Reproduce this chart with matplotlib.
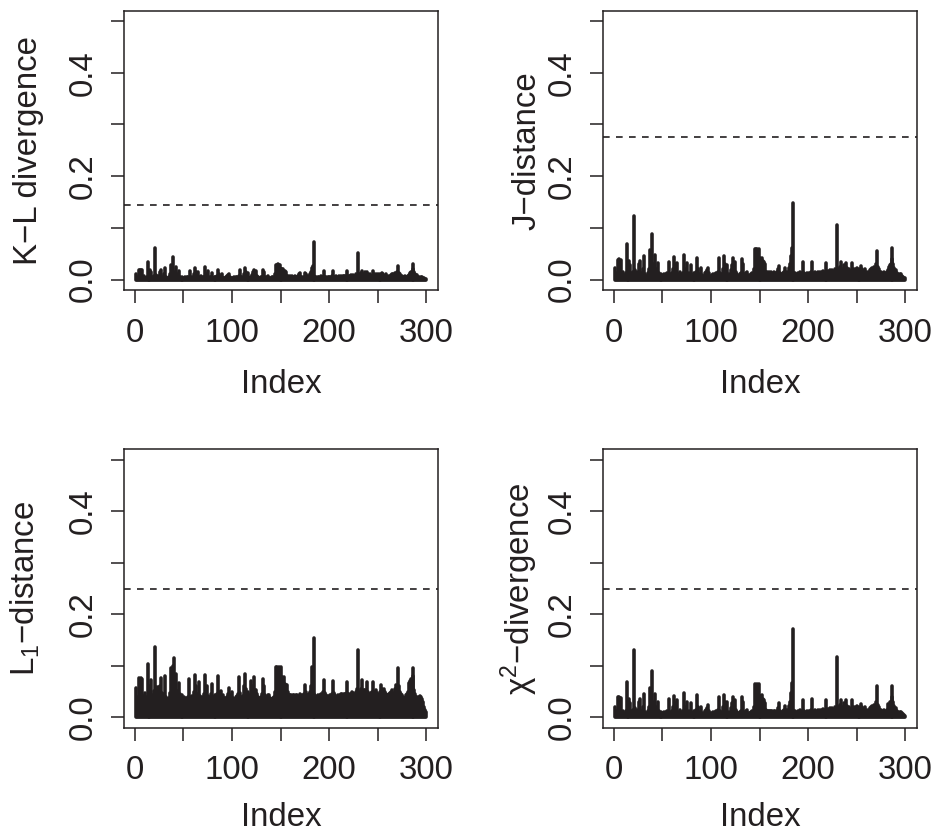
import numpy as np
import matplotlib
matplotlib.use("Agg")
import matplotlib.pyplot as plt

plt.rcParams['font.family'] = ['Liberation Sans', 'DejaVu Sans']
plt.rcParams['mathtext.fontset'] = 'custom'
plt.rcParams['mathtext.rm'] = 'Liberation Sans'
plt.rcParams['mathtext.it'] = 'Liberation Sans:italic'

ink = '#231f20'

index = np.arange(1, 301)

kl_div = [
    0.010, 0.006, 0.004, 0.019, 0.019, 0.018, 0.019, 0.005, 0.007, 0.003,
    0.004, 0.006, 0.034, 0.005, 0.010, 0.018, 0.014, 0.006, 0.004, 0.007,
    0.062, 0.009, 0.005, 0.007, 0.004, 0.015, 0.019, 0.006, 0.003, 0.010,
    0.023, 0.005, 0.004, 0.002, 0.006, 0.010, 0.029, 0.020, 0.044, 0.015,
    0.012, 0.024, 0.010, 0.008, 0.016, 0.006, 0.004, 0.005, 0.003, 0.004,
    0.004, 0.005, 0.003, 0.005, 0.006, 0.003, 0.017, 0.005, 0.004, 0.006,
    0.010, 0.022, 0.015, 0.006, 0.015, 0.005, 0.004, 0.007, 0.003, 0.005,
    0.006, 0.024, 0.010, 0.005, 0.016, 0.004, 0.006, 0.005, 0.013, 0.004,
    0.003, 0.006, 0.005, 0.004, 0.007, 0.019, 0.010, 0.005, 0.004, 0.011,
    0.004, 0.003, 0.004, 0.006, 0.007, 0.009, 0.011, 0.006, 0.004, 0.003,
    0.004, 0.005, 0.004, 0.005, 0.006, 0.004, 0.007, 0.019, 0.006, 0.005,
    0.004, 0.010, 0.022, 0.015, 0.005, 0.006, 0.013, 0.004, 0.003, 0.005,
    0.009, 0.014, 0.019, 0.015, 0.017, 0.007, 0.005, 0.004, 0.003, 0.005,
    0.006, 0.019, 0.015, 0.005, 0.004, 0.006, 0.007, 0.003, 0.004, 0.004,
    0.005, 0.006, 0.004, 0.010, 0.029, 0.029, 0.030, 0.028, 0.029, 0.020,
    0.021, 0.020, 0.021, 0.017, 0.017, 0.015, 0.007, 0.007, 0.006, 0.007,
    0.006, 0.007, 0.006, 0.005, 0.007, 0.006, 0.005, 0.008, 0.010, 0.013,
    0.006, 0.005, 0.004, 0.006, 0.012, 0.011, 0.007, 0.006, 0.008, 0.011,
    0.015, 0.022, 0.027, 0.072, 0.008, 0.005, 0.006, 0.004, 0.005, 0.006,
    0.004, 0.007, 0.006, 0.005, 0.017, 0.006, 0.005, 0.004, 0.006, 0.005,
    0.006, 0.004, 0.007, 0.016, 0.006, 0.005, 0.007, 0.006, 0.004, 0.007,
    0.006, 0.007, 0.006, 0.007, 0.008, 0.007, 0.006, 0.016, 0.007, 0.006,
    0.008, 0.007, 0.009, 0.006, 0.009, 0.008, 0.007, 0.010, 0.009, 0.051,
    0.007, 0.010, 0.012, 0.017, 0.010, 0.007, 0.014, 0.009, 0.015, 0.011,
    0.006, 0.010, 0.008, 0.007, 0.016, 0.010, 0.006, 0.010, 0.007, 0.011,
    0.006, 0.008, 0.010, 0.009, 0.012, 0.010, 0.007, 0.008, 0.010, 0.006,
    0.007, 0.006, 0.007, 0.009, 0.010, 0.011, 0.009, 0.012, 0.011, 0.015,
    0.027, 0.012, 0.010, 0.007, 0.007, 0.006, 0.005, 0.007, 0.006, 0.005,
    0.007, 0.009, 0.012, 0.014, 0.015, 0.020, 0.030, 0.015, 0.011, 0.009,
    0.009, 0.006, 0.005, 0.004, 0.005, 0.005, 0.004, 0.003, 0.002, 0.002,
]

j_dist = [
    0.022, 0.012, 0.008, 0.038, 0.039, 0.037, 0.038, 0.010, 0.014, 0.006,
    0.009, 0.012, 0.069, 0.010, 0.020, 0.037, 0.028, 0.012, 0.008, 0.015,
    0.123, 0.018, 0.010, 0.014, 0.008, 0.030, 0.037, 0.012, 0.006, 0.020,
    0.045, 0.010, 0.008, 0.005, 0.012, 0.020, 0.058, 0.040, 0.089, 0.030,
    0.025, 0.048, 0.020, 0.015, 0.032, 0.012, 0.008, 0.010, 0.006, 0.009,
    0.008, 0.011, 0.007, 0.010, 0.012, 0.006, 0.035, 0.010, 0.008, 0.012,
    0.020, 0.044, 0.030, 0.012, 0.032, 0.010, 0.009, 0.014, 0.006, 0.010,
    0.012, 0.048, 0.020, 0.010, 0.032, 0.008, 0.012, 0.010, 0.029, 0.009,
    0.006, 0.012, 0.010, 0.008, 0.014, 0.041, 0.020, 0.010, 0.008, 0.022,
    0.009, 0.006, 0.008, 0.012, 0.015, 0.018, 0.023, 0.012, 0.008, 0.006,
    0.009, 0.010, 0.008, 0.011, 0.012, 0.009, 0.015, 0.041, 0.012, 0.010,
    0.008, 0.020, 0.045, 0.030, 0.010, 0.012, 0.029, 0.008, 0.006, 0.010,
    0.018, 0.028, 0.041, 0.030, 0.035, 0.015, 0.010, 0.008, 0.006, 0.010,
    0.012, 0.039, 0.030, 0.010, 0.008, 0.012, 0.015, 0.006, 0.009, 0.008,
    0.010, 0.012, 0.008, 0.020, 0.060, 0.059, 0.060, 0.058, 0.060, 0.040,
    0.042, 0.040, 0.042, 0.036, 0.035, 0.030, 0.015, 0.014, 0.012, 0.014,
    0.013, 0.014, 0.012, 0.010, 0.014, 0.012, 0.010, 0.014, 0.020, 0.027,
    0.012, 0.010, 0.008, 0.012, 0.014, 0.022, 0.014, 0.012, 0.015, 0.022,
    0.030, 0.045, 0.061, 0.148, 0.015, 0.010, 0.012, 0.008, 0.010, 0.012,
    0.009, 0.015, 0.012, 0.010, 0.035, 0.012, 0.010, 0.008, 0.012, 0.010,
    0.012, 0.009, 0.015, 0.034, 0.012, 0.010, 0.014, 0.012, 0.008, 0.015,
    0.013, 0.014, 0.012, 0.015, 0.016, 0.014, 0.012, 0.033, 0.015, 0.013,
    0.016, 0.015, 0.018, 0.012, 0.019, 0.016, 0.014, 0.020, 0.018, 0.106,
    0.015, 0.020, 0.025, 0.034, 0.020, 0.015, 0.028, 0.018, 0.032, 0.022,
    0.012, 0.020, 0.016, 0.014, 0.032, 0.020, 0.012, 0.020, 0.015, 0.022,
    0.012, 0.016, 0.020, 0.018, 0.026, 0.020, 0.014, 0.016, 0.020, 0.012,
    0.015, 0.012, 0.014, 0.018, 0.020, 0.022, 0.018, 0.025, 0.022, 0.030,
    0.056, 0.025, 0.020, 0.015, 0.015, 0.012, 0.010, 0.014, 0.012, 0.010,
    0.015, 0.018, 0.025, 0.029, 0.030, 0.040, 0.061, 0.030, 0.022, 0.018,
    0.018, 0.012, 0.010, 0.008, 0.010, 0.010, 0.008, 0.006, 0.004, 0.003,
]

l1_dist = [
    0.057, 0.040, 0.035, 0.076, 0.075, 0.076, 0.074, 0.042, 0.038, 0.048,
    0.036, 0.040, 0.103, 0.045, 0.050, 0.060, 0.072, 0.044, 0.038, 0.052,
    0.136, 0.058, 0.040, 0.058, 0.036, 0.060, 0.076, 0.048, 0.036, 0.045,
    0.081, 0.040, 0.036, 0.035, 0.038, 0.048, 0.095, 0.070, 0.100, 0.116,
    0.060, 0.085, 0.052, 0.040, 0.066, 0.045, 0.038, 0.043, 0.030, 0.036,
    0.040, 0.034, 0.038, 0.036, 0.040, 0.074, 0.040, 0.036, 0.042, 0.038,
    0.050, 0.082, 0.060, 0.040, 0.045, 0.068, 0.042, 0.038, 0.040, 0.036,
    0.045, 0.083, 0.050, 0.060, 0.042, 0.038, 0.040, 0.045, 0.065, 0.040,
    0.036, 0.043, 0.040, 0.038, 0.045, 0.080, 0.050, 0.042, 0.052, 0.040,
    0.043, 0.038, 0.037, 0.036, 0.040, 0.045, 0.057, 0.044, 0.040, 0.050,
    0.038, 0.036, 0.035, 0.040, 0.042, 0.045, 0.079, 0.048, 0.040, 0.038,
    0.042, 0.060, 0.084, 0.055, 0.040, 0.050, 0.045, 0.038, 0.042, 0.070,
    0.055, 0.060, 0.079, 0.053, 0.053, 0.045, 0.040, 0.035, 0.038, 0.040,
    0.045, 0.074, 0.060, 0.043, 0.038, 0.040, 0.043, 0.043, 0.038, 0.036,
    0.035, 0.038, 0.040, 0.050, 0.097, 0.097, 0.096, 0.097, 0.095, 0.097,
    0.078, 0.078, 0.077, 0.078, 0.065, 0.063, 0.063, 0.050, 0.043, 0.043,
    0.043, 0.042, 0.043, 0.043, 0.042, 0.043, 0.043, 0.040, 0.042, 0.046,
    0.040, 0.043, 0.042, 0.045, 0.063, 0.050, 0.043, 0.043, 0.045, 0.050,
    0.060, 0.098, 0.080, 0.154, 0.045, 0.040, 0.042, 0.040, 0.043, 0.040,
    0.043, 0.045, 0.043, 0.050, 0.072, 0.048, 0.043, 0.040, 0.042, 0.040,
    0.043, 0.040, 0.045, 0.070, 0.048, 0.043, 0.040, 0.038, 0.043, 0.042,
    0.043, 0.045, 0.045, 0.043, 0.045, 0.046, 0.045, 0.069, 0.048, 0.045,
    0.043, 0.046, 0.045, 0.050, 0.048, 0.045, 0.043, 0.050, 0.055, 0.130,
    0.045, 0.050, 0.055, 0.072, 0.050, 0.053, 0.053, 0.045, 0.068, 0.050,
    0.045, 0.043, 0.048, 0.050, 0.069, 0.050, 0.045, 0.053, 0.048, 0.043,
    0.043, 0.045, 0.050, 0.063, 0.055, 0.048, 0.055, 0.050, 0.045, 0.043,
    0.043, 0.045, 0.048, 0.050, 0.053, 0.048, 0.045, 0.055, 0.063, 0.060,
    0.095, 0.060, 0.050, 0.046, 0.043, 0.040, 0.038, 0.037, 0.043, 0.045,
    0.050, 0.066, 0.070, 0.075, 0.070, 0.080, 0.095, 0.053, 0.045, 0.040,
    0.040, 0.038, 0.040, 0.042, 0.040, 0.035, 0.030, 0.021, 0.015, 0.011,
]

chi2_div = [
    0.021, 0.012, 0.008, 0.039, 0.039, 0.037, 0.038, 0.010, 0.013, 0.006,
    0.009, 0.012, 0.068, 0.010, 0.019, 0.036, 0.027, 0.012, 0.008, 0.015,
    0.130, 0.018, 0.010, 0.014, 0.008, 0.029, 0.036, 0.012, 0.006, 0.020,
    0.045, 0.010, 0.008, 0.005, 0.012, 0.020, 0.057, 0.040, 0.090, 0.030,
    0.025, 0.046, 0.020, 0.015, 0.030, 0.012, 0.008, 0.010, 0.006, 0.009,
    0.008, 0.011, 0.007, 0.010, 0.012, 0.006, 0.036, 0.010, 0.008, 0.012,
    0.020, 0.042, 0.028, 0.012, 0.033, 0.010, 0.009, 0.014, 0.006, 0.010,
    0.012, 0.047, 0.020, 0.010, 0.030, 0.008, 0.012, 0.010, 0.028, 0.009,
    0.006, 0.012, 0.010, 0.008, 0.014, 0.044, 0.020, 0.010, 0.008, 0.021,
    0.009, 0.006, 0.008, 0.012, 0.015, 0.018, 0.024, 0.012, 0.008, 0.006,
    0.009, 0.010, 0.008, 0.011, 0.012, 0.009, 0.015, 0.040, 0.012, 0.010,
    0.008, 0.020, 0.044, 0.030, 0.010, 0.012, 0.030, 0.008, 0.006, 0.010,
    0.018, 0.028, 0.040, 0.030, 0.034, 0.015, 0.010, 0.008, 0.006, 0.010,
    0.012, 0.039, 0.030, 0.010, 0.008, 0.012, 0.015, 0.006, 0.009, 0.008,
    0.010, 0.012, 0.008, 0.020, 0.064, 0.063, 0.064, 0.062, 0.064, 0.041,
    0.041, 0.040, 0.043, 0.035, 0.033, 0.028, 0.014, 0.013, 0.012, 0.013,
    0.013, 0.013, 0.012, 0.010, 0.013, 0.012, 0.010, 0.013, 0.019, 0.027,
    0.012, 0.010, 0.008, 0.012, 0.014, 0.022, 0.014, 0.012, 0.015, 0.022,
    0.030, 0.048, 0.067, 0.172, 0.015, 0.010, 0.012, 0.008, 0.010, 0.012,
    0.009, 0.015, 0.012, 0.010, 0.034, 0.012, 0.010, 0.008, 0.012, 0.010,
    0.012, 0.009, 0.015, 0.035, 0.012, 0.010, 0.014, 0.012, 0.008, 0.015,
    0.013, 0.014, 0.012, 0.015, 0.016, 0.014, 0.012, 0.034, 0.015, 0.013,
    0.016, 0.015, 0.018, 0.012, 0.019, 0.016, 0.014, 0.020, 0.018, 0.117,
    0.015, 0.020, 0.025, 0.034, 0.020, 0.015, 0.028, 0.018, 0.033, 0.022,
    0.012, 0.020, 0.016, 0.014, 0.033, 0.020, 0.012, 0.020, 0.015, 0.022,
    0.012, 0.016, 0.020, 0.018, 0.026, 0.020, 0.014, 0.016, 0.020, 0.012,
    0.015, 0.012, 0.014, 0.018, 0.020, 0.022, 0.018, 0.024, 0.022, 0.030,
    0.060, 0.025, 0.020, 0.015, 0.015, 0.012, 0.010, 0.014, 0.012, 0.010,
    0.015, 0.026, 0.025, 0.029, 0.030, 0.040, 0.061, 0.030, 0.022, 0.018,
    0.018, 0.012, 0.010, 0.008, 0.010, 0.010, 0.008, 0.006, 0.004, 0.003,
]

cutoffs = [0.145, 0.276, 0.25, 0.25]
ylabels = ["K\u2212L divergence", "J\u2212distance",
           r"L$_1$" + "\u2212distance", r"$\mathrm{\chi}^2$" + "\u2212divergence"]
series = [kl_div, j_dist, l1_dist, chi2_div]

xticks = [0, 50, 100, 150, 200, 250, 300]
xtick_labels = ['0', '', '100', '', '200', '', '300']
yticks = [0.0, 0.1, 0.2, 0.3, 0.4, 0.5]
ytick_labels = ['0.0', '', '0.2', '', '0.4', '']

W, H = 936, 835
# axes boxes in pixels: (left, top, right, bottom)
boxes = [(124.3, 10.7, 437.7, 290.0), (603.3, 10.7, 916.7, 290.0),
         (124.3, 449.3, 437.7, 727.7), (603.3, 449.3, 916.7, 727.7)]
ylabel_x = [-0.280, -0.215, -0.285, -0.233]
xlabel_y = [-0.37, -0.37, -0.352, -0.352]

fs = 23.8

fig = plt.figure(figsize=(W / 100, H / 100), dpi=100)

for i in range(4):
    l, t, r, b = boxes[i]
    ax = fig.add_axes([l / W, 1 - b / H, (r - l) / W, (b - t) / H])

    ax.vlines(index, 0, series[i], colors=ink, linewidth=2.6, capstyle='round')
    ax.axhline(cutoffs[i], color=ink, lw=1.2, ls=(0, (4.0, 3.8)))

    ax.set_xlim(-10.96, 311.96)
    ax.set_ylim(-0.02, 0.52)

    ax.set_xticks(xticks, xtick_labels)
    ax.set_yticks(yticks, ytick_labels, rotation=90, va='center')
    ax.tick_params(axis='both', direction='out', length=9.5, width=1.1,
                   color=ink, labelcolor=ink, labelsize=fs)
    ax.tick_params(axis='x', pad=10.5)
    ax.tick_params(axis='y', pad=9)

    for sp in ax.spines.values():
        sp.set_linewidth(1.1)
        sp.set_color(ink)

    ax.set_xlabel('Index', fontsize=fs, color=ink, va='baseline')
    ax.xaxis.set_label_coords(0.5, xlabel_y[i])
    ax.set_ylabel(ylabels[i], fontsize=fs, color=ink, va='baseline')
    ax.yaxis.set_label_coords(ylabel_x[i], 0.5)

fig.savefig('out.png', dpi=100)
